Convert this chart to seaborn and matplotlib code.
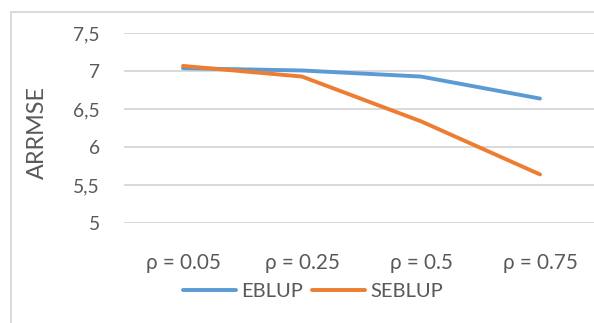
import matplotlib
matplotlib.use("Agg")
import matplotlib.pyplot as plt
import seaborn as sns
import pandas as pd
from matplotlib.patches import Rectangle
from matplotlib.ticker import FuncFormatter

categories = ["ρ = 0.05", "ρ = 0.25", "ρ = 0.5", "ρ = 0.75"]
eblup = [7.04, 7.01, 6.93, 6.64]
seblup = [7.07, 6.93, 6.34, 5.64]
series_names = ["EBLUP", "SEBLUP"]
yticks = [5, 5.5, 6, 6.5, 7, 7.5]

df = pd.DataFrame({
    "cat": categories * 2,
    "val": eblup + seblup,
    "series": [series_names[0]] * 4 + [series_names[1]] * 4,
})

sns.set_theme(style="white")
plt.rcParams["font.family"] = ["Lato", "DejaVu Sans"]

W, H = 594, 323
fig = plt.figure(figsize=(W / 100, H / 100), dpi=100)
x0, x1 = 123.5, 599.5
y_top, y_bot = 33.3, 223
ax = fig.add_axes([x0 / W, 1 - y_bot / H, (x1 - x0) / W, (y_bot - y_top) / H])

text_col = "#595959"
grid_col = "#D9D9D9"

sns.lineplot(data=df, x="cat", y="val", hue="series", sort=False,
             palette=["#5B9BD5", "#ED7D31"], linewidth=2.8, ax=ax,
             solid_capstyle="round")

ax.set_xlim(-0.5, 3.5)
ax.set_ylim(5, 7.5)
ax.set_yticks(yticks)
ax.yaxis.set_major_formatter(FuncFormatter(lambda v, p: ("%g" % v).replace(".", ",")))
ax.grid(axis="y", color=grid_col, linewidth=1.4)
ax.set_axisbelow(True)
for s in ax.spines.values():
    s.set_visible(False)
ax.tick_params(axis="both", length=0, colors=text_col)
ax.tick_params(axis="x", pad=21.5, labelsize=14.9)
ax.tick_params(axis="y", pad=17, labelsize=13.8)
ax.set_xlabel("")
ax.set_ylabel("")
fig.text(37 / W, 1 - 132 / H, "ARRMSE", rotation=90, ha="center", va="center",
         fontsize=16.8, color=text_col)

handles, labels = ax.get_legend_handles_labels()
fig.legend(handles, labels, loc="center", bbox_to_anchor=(313 / W, 1 - 291 / H),
           ncol=2, frameon=False, fontsize=14.5, handlelength=2.65,
           handletextpad=0.25, columnspacing=0.43, labelcolor=text_col,
           borderpad=0, borderaxespad=0)
ax.legend_.remove()

fig.patches.append(Rectangle((11 / W, -0.2), 1.2, 1 - 12 / H + 0.2,
                             transform=fig.transFigure, fill=False,
                             edgecolor=grid_col, linewidth=1.4))

fig.savefig("out.png", dpi=100)
